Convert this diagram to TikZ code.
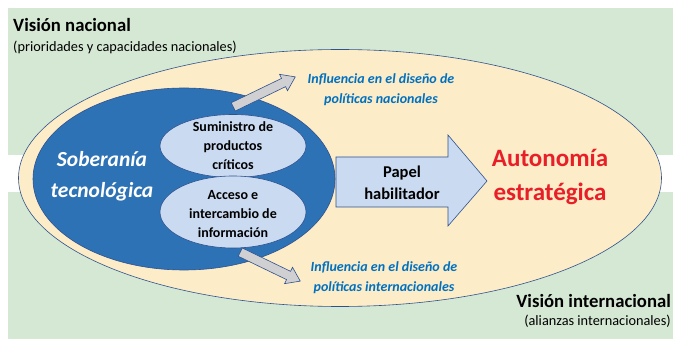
\documentclass[tikz,border=0pt]{standalone}
\usepackage{fontspec}
\setmainfont{Carlito}
\usetikzlibrary{shapes.geometric,shapes.arrows,calc}

\definecolor{verdefondo}{RGB}{213,232,212}
\definecolor{amarillo}{RGB}{252,236,199}
\definecolor{azuloscuro}{RGB}{46,114,182}
\definecolor{azulclaro}{RGB}{201,218,241}
\definecolor{borde}{RGB}{47,82,143}
\definecolor{gris}{RGB}{208,208,210}
\definecolor{textoazul}{RGB}{0,112,192}
\definecolor{rojo}{RGB}{232,30,40}

\begin{document}
\begin{tikzpicture}[x=1pt,y=-1pt,
  elipse/.style={ellipse, draw=borde, line width=0.6pt, inner sep=0pt},
  item/.style={align=center, inner sep=0pt, font=\fontsize{14}{19}\selectfont\bfseries},
  influencia/.style={align=center, inner sep=0pt, text=textoazul, font=\fontsize{14}{20}\selectfont\bfseries\itshape},
  flecha/.style={single arrow, draw=borde, fill=gris, line width=0.6pt, inner sep=4.3pt, single arrow head extend=4.5pt, single arrow tip angle=70},
  vision/.style={anchor=base west, inner sep=0pt, font=\fontsize{18.7}{22}\selectfont\bfseries},
  nota/.style={anchor=base west, inner sep=0pt, font=\fontsize{14.3}{16}\selectfont}]
\useasboundingbox (0,0) rectangle (673,339);
% fondos verdes
\fill[verdefondo] (8,8) rectangle (673,155);
\fill[verdefondo] (8,192) rectangle (673,339);
\node[vision] (vnac) at (13,32) {Visión nacional};
\node[nota] (pnac) at (13,52) {(prioridades y capacidades nacionales)};
\node[vision, anchor=base east] (vint) at (671,308) {Visión internacional};
\node[nota, anchor=base east] (pint) at (671,326) {(alianzas internacionales)};
% elipses
\node[elipse, fill=amarillo, minimum width=643pt, minimum height=257pt] (autonomia) at (340,178) {};
\node[elipse, fill=azuloscuro, minimum width=302pt, minimum height=182pt] (soberania) at (184,179) {};
\node[elipse, fill=azulclaro, minimum width=146pt, minimum height=63pt] (suministro) at (233,146) {};
\node[elipse, fill=azulclaro, minimum width=146pt, minimum height=72pt] (acceso) at (233,212) {};
\node[item] (tsum) at (suministro) {Suministro de\\productos\\críticos};
\node[item] (tacc) at (233,214) {Acceso e\\intercambio de\\información};
\node[align=center, inner sep=0pt, text=white, font=\fontsize{21.5}{31}\selectfont\bfseries\itshape] (tsob) at (102,176) {Soberanía\\tecnológica};
% flechas grises
\coordinate (natail) at (233,107);
\coordinate (natip) at (295,77);
\coordinate (intail) at (240,252);
\coordinate (intip) at (300,281);
\path let \p1=($(natip)-(natail)$) in node[flecha, anchor=tail, rotate={atan2(\y1,\x1)}, minimum height={veclen(\x1,\y1)}] (flechanac) at (natail) {};
\path let \p1=($(intip)-(intail)$) in node[flecha, anchor=tail, rotate={atan2(\y1,\x1)}, minimum height={veclen(\x1,\y1)}] (flechaint) at (intail) {};
\node[influencia] (tnac) at (381,90) {Influencia en el diseño de\\políticas nacionales};
\node[influencia] (tint) at (384,278) {Influencia en el diseño de\\políticas internacionales};
% papel habilitador
\draw[borde, fill=azulclaro, line width=0.6pt] (336,157) -- (448,157) -- (448,135) -- (487,181) -- (448,226) -- (448,207) -- (336,207) -- cycle;
\node[align=center, inner sep=0pt, font=\fontsize{16.5}{22}\selectfont\bfseries] (papel) at (402,183) {Papel\\habilitador};
\node[align=center, inner sep=0pt, text=rojo, font=\fontsize{25}{34}\selectfont\bfseries] (tauto) at (550,177) {Autonomía\\estratégica};
\end{tikzpicture}
\end{document}
